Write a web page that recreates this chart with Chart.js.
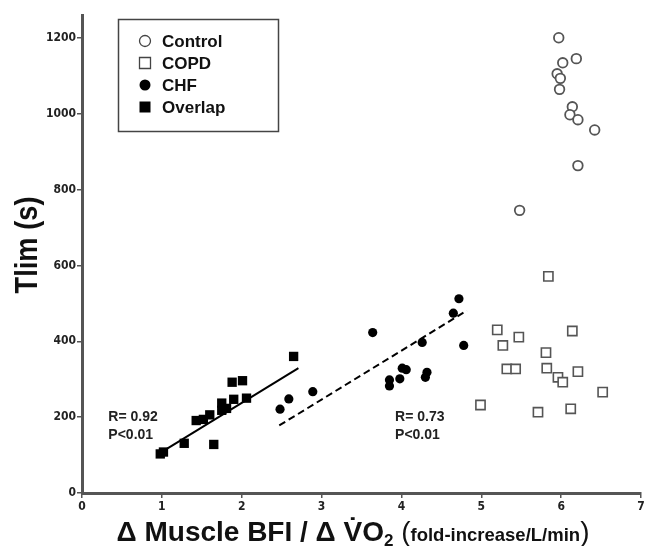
<!DOCTYPE html>
<html>
<head>
<meta charset="utf-8">
<script src="https://cdn.jsdelivr.net/npm/chart.js@4"></script>
<style>
html, body { margin: 0; padding: 0; background: #fff; }
#wrap { width: 645px; height: 546px; position: relative; }
</style>
</head>
<body>
<div id="wrap"><canvas id="chart" width="645" height="546"></canvas></div>
<script>
// Control (open circles)
const controlX = [5.97, 6.19, 6.02, 5.95, 5.99, 5.98, 6.14, 6.11, 6.21, 6.42, 6.21, 5.48];
const controlY = [1200, 1145, 1134, 1105, 1093, 1064, 1018, 997, 984, 957, 863, 745];
// COPD (open squares)
const copdX = [5.84, 5.20, 6.14, 5.47, 5.27, 5.81, 5.32, 5.43, 5.82, 6.21, 5.96, 6.02, 6.52, 4.99, 6.12, 5.71];
const copdY = [571, 430, 427, 411, 389, 370, 327, 327, 329, 320, 305, 292, 266, 232, 222, 213];
// CHF (filled circles)
const chfX = [4.72, 4.65, 4.78, 3.64, 4.26, 4.01, 4.06, 4.32, 4.30, 3.98, 3.85, 3.85, 2.89, 2.59, 2.48];
const chfY = [512, 474, 389, 423, 397, 329, 325, 318, 305, 301, 298, 282, 267, 248, 221];
// Overlap (filled squares)
const overlapX = [2.65, 1.88, 2.01, 2.06, 1.90, 1.75, 1.81, 1.75, 1.60, 1.52, 1.43, 1.28, 1.65, 0.98, 1.02];
const overlapY = [360, 292, 296, 250, 247, 237, 223, 218, 206, 194, 191, 131, 128, 103, 108];
// regression lines (end points)
const fitOverlapX = [0.98, 2.71];
const fitOverlapY = [106, 329];
const fitChfX = [2.47, 4.82];
const fitChfY = [178, 481];

const xTicks = [0, 1, 2, 3, 4, 5, 6, 7];
const yTicks = [0, 200, 400, 600, 800, 1000, 1200];

const pts = (xs, ys) => xs.map((x, i) => ({ x: x, y: ys[i] }));
const AXIS = '#555';
const TICKFONT = { family: '"DejaVu Sans Condensed", "Liberation Sans", Arial, sans-serif', size: 12, weight: 'bold' };
const SANS = '"Liberation Sans", Arial, sans-serif';

const overlayPlugin = {
  id: 'overlay',
  afterDraw(chart) {
    const ctx = chart.ctx;
    const xs = chart.scales.x, ys = chart.scales.y;
    ctx.save();
    // legend box
    ctx.strokeStyle = '#444';
    ctx.lineWidth = 1.5;
    ctx.strokeRect(118.5, 19.5, 160, 112);
    const items = [
      ['Control', 'circle', false],
      ['COPD', 'rect', false],
      ['CHF', 'circle', true],
      ['Overlap', 'rect', true]
    ];
    ctx.font = 'bold 17px ' + SANS;
    ctx.textBaseline = 'middle';
    items.forEach((it, i) => {
      const y = 41 + i * 22;
      const x = 145;
      ctx.beginPath();
      if (it[1] === 'circle') {
        ctx.arc(x, y, 5.5, 0, Math.PI * 2);
      } else {
        ctx.rect(x - 5.5, y - 5.5, 11, 11);
      }
      if (it[2]) {
        ctx.fillStyle = '#000';
        ctx.fill();
      } else {
        ctx.strokeStyle = '#444';
        ctx.lineWidth = 1.3;
        ctx.stroke();
      }
      ctx.fillStyle = '#111';
      ctx.textAlign = 'left';
      ctx.fillText(it[0], 162, y + 1);
    });

    // R / P notes
    ctx.font = 'bold 14px ' + SANS;
    ctx.fillStyle = '#222';
    ctx.fillText('R= 0.92', xs.getPixelForValue(0.33), ys.getPixelForValue(200));
    ctx.fillText('P<0.01', xs.getPixelForValue(0.33), ys.getPixelForValue(152));
    ctx.fillText('R= 0.73', xs.getPixelForValue(3.92), ys.getPixelForValue(200));
    ctx.fillText('P<0.01', xs.getPixelForValue(3.92), ys.getPixelForValue(152));

    // y title
    ctx.save();
    ctx.translate(28, 245);
    ctx.rotate(-Math.PI / 2);
    ctx.scale(0.88, 1);
    ctx.textAlign = 'center';
    ctx.textBaseline = 'middle';
    ctx.fillStyle = '#111';
    ctx.font = 'bold 31px ' + SANS;
    ctx.fillText('Tlim (s)', 0, 0);
    ctx.restore();

    // x title (mixed sizes)
    const parts = [
      ['Δ Muscle BFI / Δ V̇O', 'bold 28px ' + SANS, 0],
      ['2', 'bold 17px ' + SANS, 5],
      [' (', '28px ' + SANS, 0],
      ['fold-increase/L/min', 'bold 18.5px ' + SANS, 0],
      [')', '28px ' + SANS, 0]
    ];
    let total = 0;
    parts.forEach(p => { ctx.font = p[1]; total += ctx.measureText(p[0]).width; });
    let cx = 353 - total / 2;
    const by = 541;
    ctx.textBaseline = 'alphabetic';
    ctx.textAlign = 'left';
    ctx.fillStyle = '#111';
    parts.forEach(p => {
      ctx.font = p[1];
      ctx.fillText(p[0], cx, by + p[2]);
      cx += ctx.measureText(p[0]).width;
    });
    ctx.restore();
  }
};

new Chart(document.getElementById('chart').getContext('2d'), {
  type: 'scatter',
  data: {
    datasets: [
      { label: 'Control', data: pts(controlX, controlY), pointStyle: 'circle', pointRadius: 4.8,
        borderColor: '#555', borderWidth: 1.8, backgroundColor: '#fff' },
      { label: 'COPD', data: pts(copdX, copdY), pointStyle: 'rect', pointRadius: 6.5,
        borderColor: '#555', borderWidth: 1.6, backgroundColor: '#fff' },
      { label: 'CHF', data: pts(chfX, chfY), pointStyle: 'circle', pointRadius: 4.6,
        borderColor: '#000', borderWidth: 0, backgroundColor: '#000' },
      { label: 'Overlap', data: pts(overlapX, overlapY), pointStyle: 'rect', pointRadius: 6.6,
        borderColor: '#000', borderWidth: 0, backgroundColor: '#000' },
      { type: 'line', label: 'fit overlap', data: pts(fitOverlapX, fitOverlapY), borderColor: '#000',
        borderWidth: 2, pointRadius: 0, fill: false },
      { type: 'line', label: 'fit CHF', data: pts(fitChfX, fitChfY), borderColor: '#000',
        borderWidth: 2, borderDash: [7, 4], pointRadius: 0, fill: false }
    ]
  },
  options: {
    responsive: false,
    animation: false,
    devicePixelRatio: 1,
    layout: { autoPadding: false, padding: { top: 15, right: 4, left: 0, bottom: 0 } },
    plugins: { legend: { display: false }, tooltip: { enabled: false } },
    scales: {
      x: {
        type: 'linear', min: 0, max: 7,
        afterBuildTicks: s => { s.ticks = xTicks.map(v => ({ value: v })); },
        afterFit: s => { s.height = 53; s.paddingRight = 0; s.paddingLeft = 0; },
        border: { color: AXIS, width: 3 },
        grid: { display: true, drawOnChartArea: false, drawTicks: true, tickLength: 5, color: AXIS, lineWidth: 1.5 },
        ticks: { color: '#222', font: TICKFONT, padding: 2, maxRotation: 0 }
      },
      y: {
        type: 'linear', min: 0, max: 1260,
        afterBuildTicks: s => { s.ticks = yTicks.map(v => ({ value: v })); },
        afterFit: s => { s.width = 82; },
        border: { color: AXIS, width: 3 },
        grid: { display: true, drawOnChartArea: false, drawTicks: true, tickLength: 5, color: AXIS, lineWidth: 1.5 },
        ticks: { color: '#222', font: TICKFONT, padding: 1, callback: v => String(v) }
      }
    }
  },
  plugins: [overlayPlugin]
});
</script>
</body>
</html>
